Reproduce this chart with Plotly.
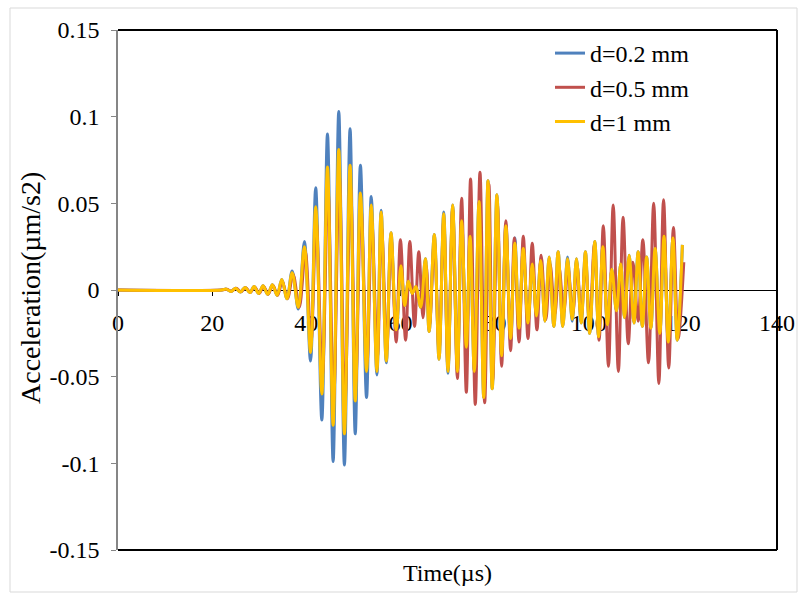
import plotly.graph_objects as go

# ---------------- data (extrema) ----------------
series_names = ["d=0.2 mm", "d=0.5 mm", "d=1 mm"]
series_colors = ["#4F81BD", "#C0504D", "#FFC000"]

# time of extrema shared by d=0.2 mm and d=1 mm (µs)
t_02_1 = [0, 22.0, 23.0, 24.0, 25.0, 26.0, 27.0, 28.0, 28.9, 29.9, 30.8, 31.8, 32.8, 33.8, 34.8, 35.9, 37.0, 38.3,
          39.6, 40.9, 42.0, 43.3, 44.5, 45.7, 46.9, 48.1, 49.3, 50.4, 51.5, 52.8, 53.8, 55.0, 55.9, 57.0, 58.0, 59.1,
          60.1, 60.9, 61.7, 62.5, 63.3, 64.3, 65.3, 66.1, 67.2, 68.2, 69.2, 70.1, 71.1, 72.1, 73.0, 74.0,
          74.8, 75.7, 76.7, 77.7, 78.6, 79.5, 80.5, 81.5, 82.4, 83.4, 84.3, 85.2, 86.1, 87.1, 88.0, 88.9,
          89.8, 90.7, 91.6, 92.6, 93.5, 94.5, 95.5, 96.5, 97.4, 98.4, 99.3, 100.2, 101.3, 102.1, 103.0, 104.0,
          104.9, 105.9, 106.8, 107.6, 108.6, 109.6, 110.5, 111.4, 112.3, 113.2, 114.1, 115.1, 116.0, 116.9, 117.9, 118.8, 119.9]

acc_02 = [0, 0, 0.0005, -0.0008, 0.001, -0.0012, 0.0015, -0.0015, 0.002, -0.002, 0.0025, -0.0025, 0.003, -0.003, 0.006, -0.005, 0.011, -0.011,
          0.028, -0.041, 0.059, -0.075, 0.090, -0.099, 0.103, -0.101, 0.093, -0.083, 0.072, -0.062, 0.054, -0.049, 0.046, -0.042, 0.033, -0.024,
          0.014, -0.009, 0.005, -0.002, 0.002, -0.010, 0.018, -0.024, 0.032, -0.040, 0.045, -0.048, 0.049, -0.047, 0.041, -0.034,
          0.031, -0.047, 0.051, -0.062, 0.063, -0.057, 0.055, -0.039, 0.038, -0.030, 0.030, -0.024, 0.024, -0.019, 0.015, -0.015,
          0.017, -0.018, 0.019, -0.021, 0.022, -0.021, 0.019, -0.018, 0.018, -0.019, 0.022, -0.025, 0.028, -0.027, 0.025, -0.020,
          0.012, -0.012, 0.015, -0.016, 0.020, -0.019, 0.022, -0.021, 0.019, -0.022, 0.024, -0.025, 0.031, -0.030, 0.030, -0.029, 0.026]

acc_1 = [0, 0, 0.0005, -0.0008, 0.001, -0.0012, 0.0015, -0.0015, 0.002, -0.002, 0.0025, -0.0025, 0.003, -0.003, 0.006, -0.005, 0.010, -0.010,
         0.025, -0.036, 0.048, -0.060, 0.071, -0.078, 0.081, -0.083, 0.072, -0.064, 0.056, -0.047, 0.049, -0.047, 0.045, -0.041, 0.033, -0.023,
         0.014, -0.009, 0.005, -0.002, 0.002, -0.010, 0.018, -0.024, 0.032, -0.040, 0.044, -0.047, 0.049, -0.047, 0.040, -0.033,
         0.031, -0.047, 0.051, -0.062, 0.063, -0.057, 0.055, -0.038, 0.037, -0.028, 0.027, -0.022, 0.024, -0.019, 0.015, -0.015,
         0.017, -0.018, 0.019, -0.021, 0.022, -0.021, 0.018, -0.017, 0.018, -0.019, 0.022, -0.025, 0.028, -0.027, 0.025, -0.020,
         0.012, -0.012, 0.015, -0.016, 0.020, -0.019, 0.022, -0.021, 0.019, -0.022, 0.024, -0.025, 0.031, -0.030, 0.030, -0.029, 0.026]

# time of extrema for d=0.5 mm (µs)
t_05 = [0, 22.0, 23.1, 24.1, 25.1, 26.1, 27.1, 28.1, 29.0, 30.0, 30.9, 31.9, 32.9, 33.9, 34.9, 36.0, 37.2, 38.5,
        39.8, 41.0, 42.1, 43.4, 44.6, 45.8, 47.0, 48.2, 49.4, 50.5, 51.6, 52.9, 53.9, 55.1, 56.0, 57.1, 58.0, 59.1,
        60.0, 61.1, 62.0, 63.0, 63.9, 64.8, 65.5, 66.2, 67.2, 68.2, 69.2, 70.1, 71.1, 72.1, 73.0, 74.0,
        74.9, 75.9, 76.9, 77.9, 78.8, 79.6, 80.6, 81.5, 82.4, 83.4, 84.2, 85.2, 86.1, 87.1, 88.0, 89.0,
        89.9, 90.9, 91.8, 92.8, 93.7, 94.7, 95.6, 96.6, 97.5, 98.4, 99.3, 100.2, 101.2, 102.2, 103.1, 104.2,
        105.2, 106.3, 107.3, 108.4, 109.4, 110.5, 111.5, 112.7, 113.8, 114.9, 115.9, 117.0, 118.0, 119.0, 120.2]

acc_05 = [0, 0, 0.0004, -0.0007, 0.001, -0.001, 0.0013, -0.0014, 0.0018, -0.002, 0.0022, -0.0024, 0.0028, -0.003, 0.005, -0.005, 0.009, -0.010,
          0.022, -0.030, 0.040, -0.050, 0.058, -0.064, 0.066, -0.066, 0.060, -0.054, 0.048, -0.042, 0.040, -0.039, 0.036, -0.035, 0.030, -0.030,
          0.029, -0.029, 0.028, -0.021, 0.022, -0.016, 0.014, -0.020, 0.028, -0.035, 0.040, -0.045, 0.047, -0.051, 0.053, -0.059,
          0.064, -0.066, 0.068, -0.065, 0.061, -0.053, 0.050, -0.044, 0.040, -0.035, 0.030, -0.030, 0.031, -0.028, 0.027, -0.023,
          0.020, -0.017, 0.015, -0.014, 0.013, -0.013, 0.013, -0.014, 0.015, -0.016, 0.018, -0.021, 0.026, -0.029, 0.037, -0.044,
          0.049, -0.047, 0.042, -0.031, 0.016, -0.018, 0.029, -0.042, 0.050, -0.054, 0.052, -0.045, 0.036, -0.028, 0.016]

x_tick_vals = [0, 20, 40, 60, 80, 100, 120, 140]
x_tick_text = ["0", "20", "40", "60", "80", "100", "120", "140"]
y_tick_vals = [-0.15, -0.1, -0.05, 0, 0.05, 0.1, 0.15]
y_tick_text = ["-0.15", "-0.1", "-0.05", "0", "0.05", "0.1", "0.15"]

x_title = "Time(µs)"
y_title = "Acceleration(µm/s2)"

# ---------------- figure ----------------
FONT = "Liberation Serif, Times New Roman, serif"
FS = 24

fig = go.Figure()
series = [(t_02_1, acc_02), (t_05, acc_05), (t_02_1, acc_1)]
for (tt, aa), name, col in zip(series, series_names, series_colors):
    fig.add_trace(go.Scatter(
        x=tt, y=aa, mode="lines", name=name,
        line=dict(color=col, width=3, shape="spline", smoothing=1.0),
    ))

W, H = 808, 601
L, R, T, B = 118, 777, 30, 550
pw, ph = R - L, B - T

def px(x):
    return (x - L) / pw

def py(y):
    return (B - y) / ph

fig.update_layout(
    width=W, height=H,
    margin=dict(l=L, r=W - R, t=T, b=H - B, pad=0),
    paper_bgcolor="white", plot_bgcolor="white",
    font=dict(family=FONT, size=FS, color="black"),
    showlegend=True,
    legend=dict(x=px(550), y=py(31), xanchor="left", yanchor="top",
                bgcolor="rgba(0,0,0,0)", borderwidth=0,
                font=dict(family=FONT, size=FS, color="black"),
                tracegroupgap=0),
    xaxis=dict(range=[0, 140], tickmode="array", tickvals=x_tick_vals, ticktext=x_tick_text,
               showgrid=False, zeroline=False, showline=True, linecolor="black", linewidth=1,
               ticks="outside", ticklen=5, tickcolor="black", tickwidth=1,
               anchor="free", position=0.5, layer="below traces",
               tickfont=dict(family=FONT, size=FS, color="black"), ticklabelstandoff=6),
    yaxis=dict(range=[-0.15, 0.15], tickmode="array", tickvals=y_tick_vals, ticktext=y_tick_text,
               showgrid=False, zeroline=False, showline=True, linecolor="#868686", linewidth=1.5,
               ticks="outside", ticklen=5, tickcolor="#868686", tickwidth=1,
               tickfont=dict(family=FONT, size=FS, color="black"), ticklabelstandoff=7),
    shapes=[
        dict(type="line", xref="paper", yref="paper", x0=0, x1=1, y0=1, y1=1, line=dict(color="black", width=2)),
        dict(type="line", xref="paper", yref="paper", x0=1, x1=1, y0=0, y1=1, line=dict(color="black", width=2)),
        dict(type="line", xref="paper", yref="paper", x0=0, x1=1, y0=0, y1=0, line=dict(color="black", width=2)),
        dict(type="rect", xref="paper", yref="paper", x0=px(10), x1=px(797), y0=py(592), y1=py(8),
             line=dict(color="#D9D9D9", width=1), layer="below"),
    ],
    annotations=[
        dict(text=x_title, xref="paper", yref="paper", x=px(447), y=py(573), showarrow=False,
             xanchor="center", yanchor="middle", font=dict(family=FONT, size=FS, color="black")),
        dict(text=y_title, xref="paper", yref="paper", x=px(30), y=py(288), showarrow=False,
             textangle=-90, xanchor="center", yanchor="middle", font=dict(family=FONT, size=28, color="black")),
    ],
)

fig.write_html("out.html", config={"displayModeBar": False},
               post_script="document.body.style.margin='0';document.body.style.padding='0';")
